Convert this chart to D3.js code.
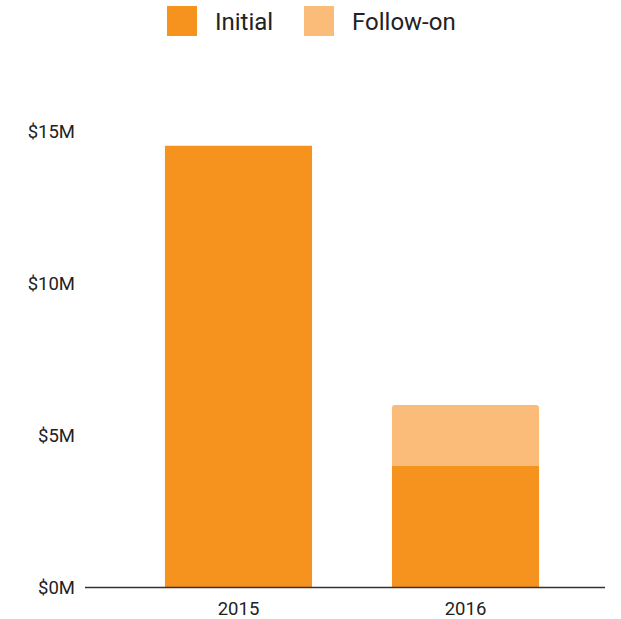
<!DOCTYPE html>
<html>
<head>
<meta charset="utf-8">
<script src="https://d3js.org/d3.v7.min.js"></script>
<style>
  body { margin: 0; background: #fff; }
  text { font-family: Roboto, "Noto Sans", sans-serif; fill: #222; }
</style>
</head>
<body>
<script>
// chart data
var years = ["2015", "2016"];
var seriesNames = ["Initial", "Follow-on"];
var initial = [14.53, 4.0];    // $M
var followOn = [0, 2.0];       // $M
var yTicks = [0, 5, 10, 15];

var colors = { "Initial": "#f6921e", "Follow-on": "#fbbb79" };

var width = 621, height = 619;
var svg = d3.select("body").append("svg")
  .attr("width", width)
  .attr("height", height);

var x = d3.scaleBand()
  .domain(years)
  .range([125, 579])
  .paddingInner(0.352)
  .paddingOuter(0.176);

var y = d3.scaleLinear()
  .domain([0, 15])
  .range([587.5, 131.5]);

// stacked data
var rows = years.map(function(yr, i) {
  return { year: yr, "Initial": initial[i], "Follow-on": followOn[i] };
});
var stacked = d3.stack().keys(seriesNames)(rows);

// y axis labels, no gridlines
var yAxis = d3.axisLeft(y)
  .tickValues(yTicks)
  .tickSize(0)
  .tickPadding(0)
  .tickFormat(function(d) { return "$" + d + "M"; });

var gy = svg.append("g")
  .attr("transform", "translate(75,0)")
  .call(yAxis);
gy.select(".domain").remove();
gy.selectAll("text")
  .style("font-size", "18.5px")
  .attr("dy", "0.35em");

// bars
stacked.forEach(function(layer) {
  var key = layer.key;
  svg.append("g")
    .selectAll("path")
    .data(layer.filter(function(d) { return d[1] - d[0] > 0; }))
    .enter().append("path")
    .attr("fill", colors[key])
    .attr("d", function(d) {
      var x0 = x(d.data.year), w = x.bandwidth();
      var top = y(d[1]), bot = y(d[0]);
      // follow-on segment gets slightly rounded top corners
      var r = (key === "Follow-on") ? 3 : 0;
      return "M" + x0 + "," + bot +
        "V" + (top + r) +
        (r ? "Q" + x0 + "," + top + " " + (x0 + r) + "," + top : "") +
        "H" + (x0 + w - r) +
        (r ? "Q" + (x0 + w) + "," + top + " " + (x0 + w) + "," + (top + r) : "") +
        "V" + bot + "Z";
    });
});

// baseline
svg.append("line")
  .attr("x1", 85).attr("x2", 605)
  .attr("y1", y(0)).attr("y2", y(0))
  .attr("stroke", "#333")
  .attr("stroke-width", 1.3);

// x labels
var xAxis = d3.axisBottom(x).tickSize(0).tickPadding(0);
var gx = svg.append("g")
  .attr("transform", "translate(0," + y(0) + ")")
  .call(xAxis);
gx.select(".domain").remove();
gx.selectAll("text")
  .style("font-size", "18.5px")
  .attr("y", 27.5)
  .attr("dy", null);

// legend
var legendX = [167, 304];
var legend = svg.append("g");
seriesNames.forEach(function(name, i) {
  legend.append("rect")
    .attr("x", legendX[i]).attr("y", 6)
    .attr("width", 30).attr("height", 30)
    .attr("fill", colors[name]);
  legend.append("text")
    .attr("x", legendX[i] + 48)
    .attr("y", 30)
    .style("font-size", "24px")
    .text(name);
});
</script>
</body>
</html>
